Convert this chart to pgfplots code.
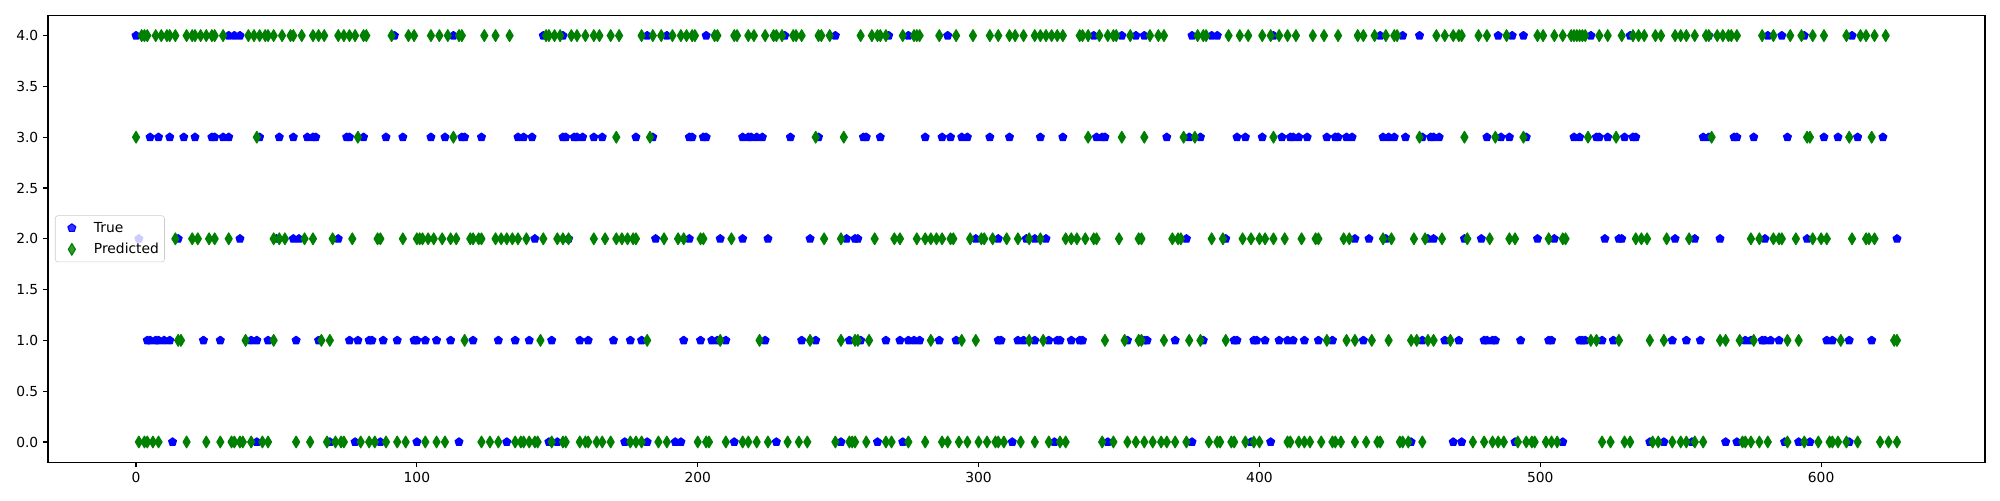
\documentclass[border=0pt]{standalone}
\usepackage{pgfplots}
\pgfplotsset{compat=1.18}
\usepackage{fontspec}
\setmainfont{DejaVu Sans}
\definecolor{mplgreen}{rgb}{0,0.5,0}
\pgfplotsset{mplmark/.style={legend image code/.code={\path[draw=none,fill=none] (0pt,-2pt) rectangle (20pt,2pt); \draw[mark repeat=2,mark phase=2,##1] plot coordinates {(0pt,0pt) (10pt,0pt) (20pt,0pt)};}}}
\begin{document}
\begin{tikzpicture}
\begin{axis}[
  scale only axis, width=19.37in, height=4.47in,
  xmin=-31.35, xmax=658.35, ymin=-0.2, ymax=4.2,
  xtick={0,100,200,300,400,500,600},
  ytick={0,0.5,1,1.5,2,2.5,3,3.5,4},
  xtick pos=lower, ytick pos=left,
  yticklabel style={/pgf/number format/fixed,/pgf/number format/fixed zerofill,/pgf/number format/precision=1},
  /pgf/number format/assume math mode=true,
  tick align=outside, major tick length=3.5pt,
  every tick/.style={black, line width=0.8pt},
  axis line style={line width=0.8pt},
  tick label style={font=\fontsize{10}{12}\selectfont},
  legend cell align=left,
  legend style={at={(0.0036,0.5)}, anchor=west, draw=black!20, rounded corners=2pt,
    fill=white, fill opacity=0.8, text opacity=1, font=\fontsize{10}{12}\selectfont,
    inner xsep=2pt, inner ysep=3pt, nodes={inner xsep=2pt, inner ysep=1.5pt}, row sep=3.5pt,
    /tikz/every odd column/.append style={column sep=4pt}},
]
\addplot[only marks, mplmark, mark=pentagon*, mark size=3pt, color=blue,
  mark options={fill=blue, draw=blue, line width=0.8pt, line join=round}] coordinates {
(0,4)(33,4)(35,4)(37,4)(92,4)(113,4)(145,4)(152,4)(182,4)(189,4)(203,4)(231,4)(249,4)(268,4)(275,4)(289,4)(341,4)(351,4)(356,4)(359,4)(376,4)(383,4)(385,4)(405,4)(443,4)(451,4)(457,4)(485,4)(490,4)(494,4)(518,4)(532,4)(560,4)(581,4)(586,4)(594,4)(611,4)
(5,3)(8,3)(12,3)(17,3)(21,3)(27,3)(28,3)(31,3)(33,3)(44,3)(51,3)(56,3)(61,3)(63,3)(64,3)(75,3)(76,3)(81,3)(89,3)(95,3)(105,3)(110,3)(116,3)(117,3)(123,3)(136,3)(138,3)(141,3)(152,3)(153,3)(156,3)(157,3)(159,3)(163,3)(166,3)(178,3)(184,3)(197,3)(198,3)(202,3)(203,3)(216,3)(218,3)(219,3)(221,3)(223,3)(233,3)(243,3)(259,3)(260,3)(265,3)(281,3)(287,3)(290,3)(294,3)(296,3)(304,3)(311,3)(322,3)(330,3)(342,3)(344,3)(345,3)(367,3)(375,3)(379,3)(392,3)(395,3)(401,3)(408,3)(411,3)(412,3)(414,3)(417,3)(424,3)(427,3)(428,3)(431,3)(433,3)(444,3)(446,3)(448,3)(452,3)(458,3)(461,3)(462,3)(464,3)(481,3)(486,3)(489,3)(495,3)(512,3)(514,3)(520,3)(521,3)(524,3)(530,3)(533,3)(534,3)(558,3)(560,3)(569,3)(570,3)(576,3)(588,3)(601,3)(606,3)(613,3)(622,3)
(1,2)(15,2)(37,2)(50,2)(56,2)(58,2)(72,2)(142,2)(154,2)(185,2)(197,2)(208,2)(216,2)(225,2)(240,2)(253,2)(256,2)(257,2)(299,2)(307,2)(317,2)(320,2)(324,2)(374,2)(388,2)(434,2)(439,2)(445,2)(460,2)(462,2)(473,2)(479,2)(499,2)(505,2)(523,2)(528,2)(529,2)(548,2)(555,2)(564,2)(580,2)(595,2)(627,2)
(4,1)(5,1)(7,1)(8,1)(10,1)(12,1)(24,1)(30,1)(41,1)(43,1)(47,1)(57,1)(65,1)(76,1)(79,1)(83,1)(84,1)(88,1)(93,1)(99,1)(100,1)(103,1)(107,1)(112,1)(120,1)(129,1)(135,1)(140,1)(148,1)(158,1)(161,1)(170,1)(176,1)(180,1)(195,1)(201,1)(205,1)(207,1)(210,1)(224,1)(237,1)(242,1)(254,1)(258,1)(267,1)(272,1)(275,1)(277,1)(279,1)(286,1)(292,1)(307,1)(308,1)(314,1)(316,1)(320,1)(325,1)(328,1)(329,1)(333,1)(336,1)(337,1)(353,1)(359,1)(360,1)(370,1)(380,1)(391,1)(392,1)(398,1)(399,1)(402,1)(407,1)(410,1)(412,1)(416,1)(421,1)(426,1)(437,1)(458,1)(466,1)(471,1)(480,1)(481,1)(483,1)(484,1)(493,1)(503,1)(504,1)(514,1)(515,1)(516,1)(522,1)(526,1)(547,1)(552,1)(557,1)(573,1)(575,1)(579,1)(580,1)(582,1)(585,1)(602,1)(604,1)(610,1)(618,1)
(13,0)(43,0)(69,0)(78,0)(87,0)(100,0)(115,0)(132,0)(147,0)(150,0)(174,0)(182,0)(192,0)(194,0)(213,0)(228,0)(251,0)(264,0)(273,0)(312,0)(327,0)(346,0)(376,0)(397,0)(404,0)(454,0)(469,0)(472,0)(491,0)(508,0)(539,0)(544,0)(554,0)(566,0)(570,0)(587,0)(592,0)(596,0)(610,0)
};
\addlegendentry{True}
\addplot[only marks, mplmark, mark=diamond*, mark size=4.24pt, color=mplgreen,
  mark options={xscale=0.8, fill=mplgreen, draw=mplgreen, line width=0.8pt, line join=round}] coordinates {
(2,4)(3,4)(4,4)(7,4)(9,4)(11,4)(12,4)(14,4)(18,4)(20,4)(21,4)(23,4)(25,4)(27,4)(28,4)(31,4)(40,4)(42,4)(44,4)(46,4)(47,4)(49,4)(52,4)(55,4)(56,4)(59,4)(63,4)(65,4)(67,4)(72,4)(74,4)(76,4)(78,4)(81,4)(82,4)(91,4)(97,4)(99,4)(105,4)(108,4)(111,4)(115,4)(116,4)(124,4)(128,4)(133,4)(146,4)(147,4)(149,4)(151,4)(155,4)(157,4)(160,4)(163,4)(165,4)(169,4)(172,4)(180,4)(184,4)(187,4)(191,4)(194,4)(196,4)(198,4)(199,4)(206,4)(207,4)(213,4)(214,4)(218,4)(220,4)(224,4)(227,4)(228,4)(230,4)(234,4)(235,4)(237,4)(243,4)(244,4)(247,4)(258,4)(262,4)(264,4)(265,4)(267,4)(273,4)(277,4)(278,4)(279,4)(286,4)(292,4)(298,4)(304,4)(307,4)(311,4)(313,4)(316,4)(320,4)(322,4)(324,4)(326,4)(328,4)(330,4)(336,4)(337,4)(339,4)(343,4)(346,4)(348,4)(349,4)(354,4)(361,4)(364,4)(366,4)(378,4)(380,4)(381,4)(389,4)(393,4)(396,4)(401,4)(404,4)(407,4)(410,4)(413,4)(419,4)(423,4)(428,4)(435,4)(437,4)(441,4)(445,4)(448,4)(449,4)(463,4)(466,4)(469,4)(471,4)(472,4)(478,4)(481,4)(488,4)(499,4)(501,4)(505,4)(508,4)(511,4)(512,4)(513,4)(514,4)(515,4)(516,4)(521,4)(524,4)(529,4)(533,4)(535,4)(537,4)(541,4)(543,4)(548,4)(550,4)(552,4)(555,4)(559,4)(560,4)(563,4)(565,4)(567,4)(568,4)(570,4)(579,4)(583,4)(589,4)(593,4)(597,4)(601,4)(609,4)(614,4)(616,4)(619,4)(623,4)
(0,3)(43,3)(79,3)(113,3)(171,3)(183,3)(242,3)(252,3)(339,3)(351,3)(359,3)(373,3)(377,3)(405,3)(457,3)(473,3)(484,3)(494,3)(517,3)(527,3)(561,3)(595,3)(596,3)(610,3)(618,3)
(14,2)(20,2)(22,2)(26,2)(28,2)(33,2)(49,2)(51,2)(53,2)(60,2)(63,2)(70,2)(77,2)(86,2)(87,2)(95,2)(100,2)(101,2)(102,2)(104,2)(106,2)(109,2)(112,2)(114,2)(119,2)(120,2)(122,2)(123,2)(128,2)(130,2)(132,2)(134,2)(136,2)(139,2)(145,2)(150,2)(152,2)(154,2)(163,2)(167,2)(171,2)(173,2)(175,2)(177,2)(178,2)(188,2)(193,2)(195,2)(201,2)(202,2)(212,2)(245,2)(251,2)(263,2)(270,2)(272,2)(278,2)(281,2)(283,2)(285,2)(287,2)(290,2)(291,2)(297,2)(301,2)(302,2)(305,2)(310,2)(314,2)(318,2)(322,2)(331,2)(333,2)(335,2)(338,2)(341,2)(342,2)(350,2)(357,2)(358,2)(369,2)(371,2)(372,2)(383,2)(387,2)(394,2)(397,2)(400,2)(402,2)(405,2)(409,2)(415,2)(420,2)(421,2)(430,2)(432,2)(444,2)(447,2)(455,2)(459,2)(465,2)(474,2)(482,2)(489,2)(491,2)(503,2)(508,2)(509,2)(534,2)(536,2)(538,2)(545,2)(553,2)(575,2)(578,2)(583,2)(585,2)(586,2)(591,2)(597,2)(600,2)(602,2)(611,2)(616,2)(617,2)(619,2)
(15,1)(16,1)(39,1)(49,1)(66,1)(69,1)(117,1)(144,1)(182,1)(208,1)(222,1)(240,1)(251,1)(256,1)(257,1)(261,1)(283,1)(294,1)(299,1)(318,1)(323,1)(345,1)(352,1)(357,1)(358,1)(366,1)(375,1)(379,1)(388,1)(424,1)(431,1)(434,1)(440,1)(446,1)(454,1)(456,1)(460,1)(462,1)(468,1)(518,1)(520,1)(528,1)(539,1)(544,1)(564,1)(566,1)(571,1)(576,1)(588,1)(592,1)(607,1)(626,1)(627,1)
(1,0)(3,0)(4,0)(6,0)(8,0)(18,0)(25,0)(30,0)(34,0)(35,0)(37,0)(38,0)(41,0)(45,0)(47,0)(57,0)(62,0)(68,0)(71,0)(73,0)(74,0)(80,0)(83,0)(85,0)(89,0)(93,0)(96,0)(103,0)(107,0)(110,0)(123,0)(126,0)(129,0)(135,0)(137,0)(138,0)(140,0)(142,0)(143,0)(148,0)(152,0)(153,0)(158,0)(160,0)(161,0)(164,0)(166,0)(169,0)(176,0)(178,0)(180,0)(186,0)(189,0)(200,0)(203,0)(204,0)(210,0)(216,0)(218,0)(221,0)(225,0)(232,0)(236,0)(239,0)(249,0)(254,0)(255,0)(256,0)(260,0)(267,0)(269,0)(275,0)(281,0)(287,0)(289,0)(293,0)(296,0)(300,0)(303,0)(306,0)(307,0)(309,0)(315,0)(320,0)(325,0)(329,0)(331,0)(344,0)(348,0)(353,0)(356,0)(359,0)(362,0)(365,0)(367,0)(370,0)(374,0)(382,0)(385,0)(386,0)(390,0)(391,0)(395,0)(398,0)(400,0)(410,0)(411,0)(414,0)(416,0)(418,0)(422,0)(426,0)(427,0)(429,0)(434,0)(438,0)(442,0)(443,0)(450,0)(451,0)(453,0)(458,0)(476,0)(480,0)(483,0)(485,0)(487,0)(492,0)(495,0)(497,0)(498,0)(502,0)(504,0)(506,0)(522,0)(525,0)(530,0)(532,0)(540,0)(542,0)(547,0)(550,0)(552,0)(555,0)(558,0)(572,0)(573,0)(575,0)(578,0)(581,0)(588,0)(594,0)(599,0)(603,0)(604,0)(606,0)(609,0)(613,0)(621,0)(624,0)(627,0)
};
\addlegendentry{Predicted}
\end{axis}
\path ([xshift=-0.48in,yshift=-0.38in]current axis.south west) rectangle ([xshift=0.15in,yshift=0.153in]current axis.north east);
\end{tikzpicture}
\end{document}
